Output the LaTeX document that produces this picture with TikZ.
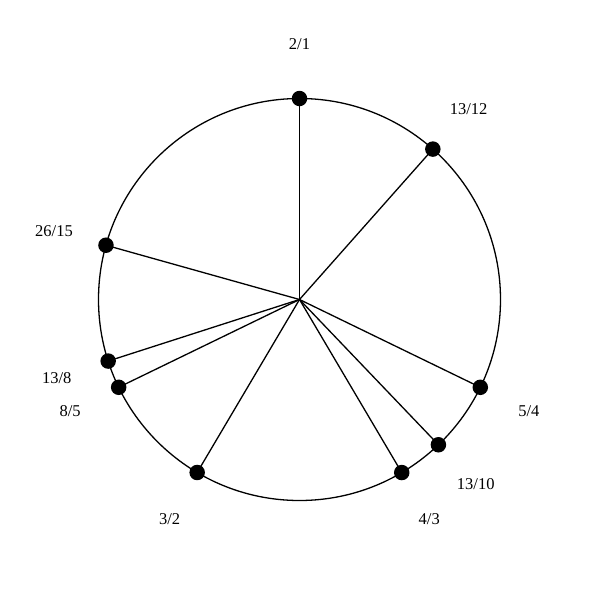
\documentclass[tikz,border=0pt]{standalone}
\usepackage{fontspec}
\setmainfont{Liberation Serif}
\usetikzlibrary{calc}
\begin{document}
\begin{tikzpicture}[x=1pt,y=-1pt,
  dot/.style={circle,fill=black,inner sep=0pt,minimum size=15.5pt},
  lab/.style={font=\fontsize{16.5}{18}\selectfont,inner sep=0pt},
  ray/.style={line width=1.3pt}]
\useasboundingbox (0,0) rectangle (600,600);
\coordinate (c) at (299.5,299.5);
\draw[ray] (c) circle (201);
\foreach \n/\r in {a/1, b/1.0833333, k/1.25, d/1.3, e/1.3333333, f/1.5, g/1.6, h/1.625, i/1.7333333}{
  \pgfmathsetmacro{\ang}{360*ln(\r)/ln(2)}
  \coordinate (p\n) at ($(c)+({201*sin(\ang)},{-201*cos(\ang)})$);
  \coordinate (q\n) at ($(c)+({255*sin(\ang)},{-255*cos(\ang)})$);
  \draw[ray] (c) -- (p\n);
  \node[dot] (d\n) at (p\n) {};
}
\node[lab] (la) at (qa) {2/1};
\node[lab] (lb) at (qb) {13/12};
\node[lab] (lk) at (qk) {5/4};
\node[lab] (ld) at (qd) {13/10};
\node[lab] (le) at (qe) {4/3};
\node[lab] (lf) at (qf) {3/2};
\node[lab] (lg) at (qg) {8/5};
\node[lab] (lh) at (qh) {13/8};
\node[lab] (li) at (qi) {26/15};
\end{tikzpicture}
\end{document}
